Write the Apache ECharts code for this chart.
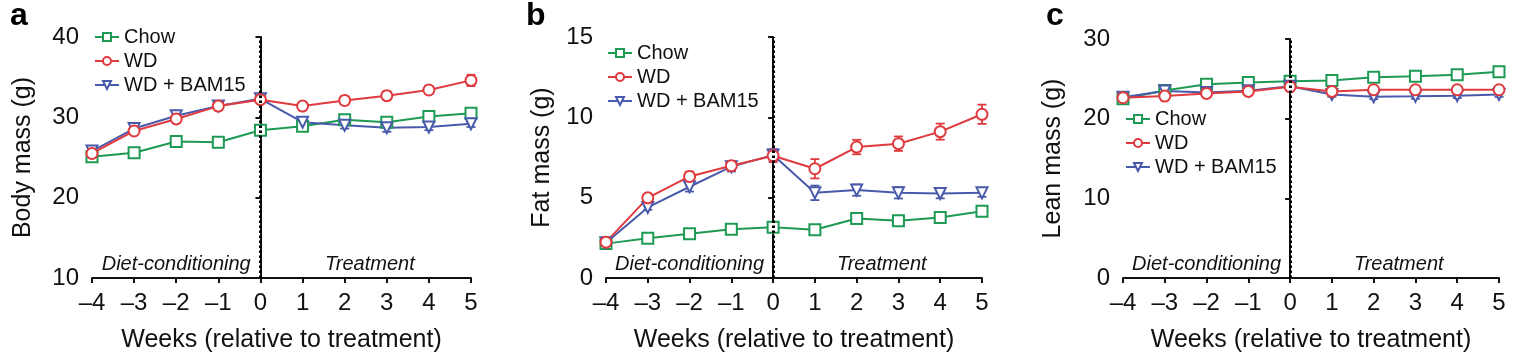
<!DOCTYPE html>
<html>
<head>
<meta charset="utf-8">
<script src="https://cdn.jsdelivr.net/npm/echarts@6/dist/echarts.min.js"></script>
<style>
html,body{margin:0;padding:0;background:#fff;}
#chart{width:1516px;height:358px;}
</style>
</head>
<body>
<div id="chart"></div>
<script>
// ---------- data ----------
const weeks = [-4, -3, -2, -1, 0, 1, 2, 3, 4, 5];
const seriesNames = ['Chow', 'WD', 'WD + BAM15'];

// Panel a: body mass (g)
const bodyChow    = [25.1, 25.6, 27.0, 26.9, 28.4, 28.9, 29.7, 29.4, 30.1, 30.5];
const bodyWD      = [25.5, 28.3, 29.8, 31.4, 32.2, 31.4, 32.1, 32.7, 33.4, 34.6];
const bodyBAM     = [25.8, 28.6, 30.2, 31.4, 32.3, 29.4, 29.0, 28.7, 28.8, 29.2];
const bodyChowErr = [0.3, 0.3, 0.5, 0.4, 0.5, 0.4, 0.4, 0.4, 0.4, 0.5];
const bodyWDErr   = [0.4, 0.4, 0.4, 0.5, 0.4, 0.3, 0.5, 0.5, 0.5, 0.7];
const bodyBAMErr  = [0.3, 0.4, 0.4, 0.4, 0.3, 0.4, 0.4, 0.5, 0.4, 0.4];

// Panel b: fat mass (g)
const fatChow    = [2.14, 2.48, 2.75, 3.04, 3.16, 3.0, 3.7, 3.56, 3.77, 4.16];
const fatWD      = [2.23, 4.99, 6.32, 6.99, 7.61, 6.8, 8.15, 8.36, 9.11, 10.19];
const fatBAM     = [2.2, 4.39, 5.68, 6.93, 7.65, 5.3, 5.47, 5.3, 5.26, 5.3];
const fatChowErr = [0.1, 0.1, 0.15, 0.15, 0.2, 0.15, 0.2, 0.15, 0.15, 0.15];
const fatWDErr   = [0.15, 0.15, 0.3, 0.3, 0.4, 0.6, 0.45, 0.45, 0.5, 0.6];
const fatBAMErr  = [0.15, 0.15, 0.3, 0.3, 0.35, 0.45, 0.35, 0.35, 0.3, 0.25];

// Panel c: lean mass (g)
const leanChow    = [22.5, 23.54, 24.33, 24.54, 24.71, 24.79, 25.21, 25.33, 25.5, 25.88];
const leanWD      = [22.63, 22.83, 23.17, 23.42, 24.0, 23.42, 23.63, 23.63, 23.63, 23.63];
const leanBAM     = [22.7, 23.46, 23.3, 23.5, 24.08, 23.04, 22.75, 22.8, 22.88, 23.04];
const leanChowErr = [0.3, 0.3, 0.3, 0.3, 0.3, 0.3, 0.3, 0.3, 0.3, 0.3];
const leanWDErr   = [0.3, 0.3, 0.3, 0.3, 0.4, 0.3, 0.3, 0.3, 0.3, 0.3];
const leanBAMErr  = [0.3, 0.3, 0.3, 0.3, 0.4, 0.3, 0.3, 0.3, 0.3, 0.3];

const panelLetters = ['a', 'b', 'c'];
const yTitles = ['Body mass (g)', 'Fat mass (g)', 'Lean mass (g)'];
const xTitle = 'Weeks (relative to treatment)';
const yMins = [10, 0, 0];
const yMaxs = [40, 15, 30];
const yIntervals = [10, 5, 10];
const phaseLabels = ['Diet-conditioning', 'Treatment'];
const phaseCenters = [-2, 2.6];

// ---------- styling ----------
const FONT = '"Liberation Sans", Arial, Helvetica, sans-serif';
const colors = ['#1e9a55', '#e03a3e', '#4a5aab'];
const symbols = ['emptyRect', 'emptyCircle', 'emptyTriangle'];
const symbolRot = [0, 0, 180];

const panels = [
  {vals: [bodyChow, bodyWD, bodyBAM], errs: [bodyChowErr, bodyWDErr, bodyBAMErr]},
  {vals: [fatChow, fatWD, fatBAM], errs: [fatChowErr, fatWDErr, fatBAMErr]},
  {vals: [leanChow, leanWD, leanBAM], errs: [leanChowErr, leanWDErr, leanBAMErr]}
];

const grids = [
  {left: 92, top: 37, width: 379, height: 241},
  {left: 606, top: 37, width: 376, height: 241},
  {left: 1123, top: 39, width: 376, height: 240}
];
const yNameGaps = [56, 51, 57];
const legendPos = [
  {left: 94, top: 27},
  {left: 607, top: 43},
  {left: 1125, top: 109}
];
const letterPos = [[10, 27], [526, 27], [1046, 27]];

const chart = echarts.init(document.getElementById('chart'), null, {renderer: 'canvas'});

function fmtMinus(v) { return String(v).replace('-', '\u2013'); }

function errRenderer(color) {
  return function (params, api) {
    const x = api.value(0), y = api.value(1), e = api.value(2);
    const top = api.coord([x, y + e]);
    const bot = api.coord([x, y - e]);
    const w = 4.5;
    const st = {stroke: color, lineWidth: 1.8};
    return {
      type: 'group',
      children: [
        {type: 'line', shape: {x1: top[0], y1: top[1], x2: bot[0], y2: bot[1]}, style: st},
        {type: 'line', shape: {x1: top[0] - w, y1: top[1], x2: top[0] + w, y2: top[1]}, style: st},
        {type: 'line', shape: {x1: bot[0] - w, y1: bot[1], x2: bot[0] + w, y2: bot[1]}, style: st}
      ]
    };
  };
}

const xAxes = [], yAxes = [], series = [], legends = [], graphics = [];

grids.forEach((g, i) => {
  xAxes.push({
    type: 'value', gridIndex: i, min: -4, max: 5, interval: 1,
    name: xTitle, nameLocation: 'middle', nameGap: 50,
    nameTextStyle: {fontFamily: FONT, fontSize: 25, color: '#111'},
    axisLine: {lineStyle: {color: '#111', width: 2}},
    axisTick: {show: true, length: 5, lineStyle: {color: '#111', width: 2}},
    axisLabel: {fontFamily: FONT, fontSize: 24, color: '#111', margin: 13, formatter: fmtMinus},
    splitLine: {show: false}
  });
  yAxes.push({
    type: 'value', gridIndex: i, min: yMins[i], max: yMaxs[i], interval: yIntervals[i],
    name: yTitles[i], nameLocation: 'middle', nameGap: yNameGaps[i],
    nameTextStyle: {fontFamily: FONT, fontSize: 25, color: '#111'},
    axisLine: {show: true, lineStyle: {color: '#111', width: 2}},
    axisTick: {show: true, length: 5, lineStyle: {color: '#111', width: 2}},
    axisLabel: {fontFamily: FONT, fontSize: 24, color: '#111', margin: 13},
    splitLine: {show: false}
  });
  const p = panels[i];
  [0, 2, 1].forEach(k => {
    series.push({
      type: 'custom', name: seriesNames[k] + ' err', xAxisIndex: i, yAxisIndex: i,
      renderItem: errRenderer(colors[k]), z: 3,
      data: weeks.map((w, j) => [w, p.vals[k][j], p.errs[k][j]]),
      encode: {x: 0, y: 1}
    });
    series.push({
      type: 'line', name: seriesNames[k], xAxisIndex: i, yAxisIndex: i,
      data: weeks.map((w, j) => [w, p.vals[k][j]]),
      symbol: symbols[k], symbolSize: 11, symbolRotate: symbolRot[k],
      showAllSymbol: true, z: 4,
      color: colors[k],
      itemStyle: {color: colors[k], borderWidth: 1.8},
      lineStyle: {color: colors[k], width: 2}
    });
  });
  // dotted divider at week 0
  series.push({
    type: 'line', name: 'divider', xAxisIndex: i, yAxisIndex: i, data: [], z: 2,
    markLine: {
      silent: true, symbol: ['none', 'none'], label: {show: false},
      lineStyle: {color: '#000', type: [2.5, 2.5], width: 3},
      data: [{xAxis: 0}]
    }
  });
  legends.push({
    data: seriesNames, orient: 'vertical', left: legendPos[i].left, top: legendPos[i].top,
    itemWidth: 24, itemHeight: 10, itemGap: 4, selectedMode: false,
    textStyle: {fontFamily: FONT, fontSize: 20, color: '#111'},
    padding: 0
  });
  graphics.push({
    type: 'text', left: letterPos[i][0], top: 0,
    style: {text: panelLetters[i], font: 'bold 32px ' + FONT, fill: '#000'}
  });
});

chart.setOption({
  animation: false,
  backgroundColor: '#fff',
  grid: grids,
  xAxis: xAxes,
  yAxis: yAxes,
  legend: legends,
  series: series,
  graphic: graphics
});

// phase annotations placed through the axes' scales
const extra = [];
grids.forEach((g, i) => {
  phaseLabels.forEach((t, k) => {
    const px = chart.convertToPixel({gridIndex: i}, [phaseCenters[k], yMins[i]]);
    extra.push({
      type: 'text', x: px[0], y: px[1] - 14,
      style: {text: t, font: 'italic 20px ' + FONT, fill: '#111', align: 'center', verticalAlign: 'middle'}
    });
  });
});
chart.setOption({graphic: graphics.concat(extra)});
</script>
</body>
</html>
